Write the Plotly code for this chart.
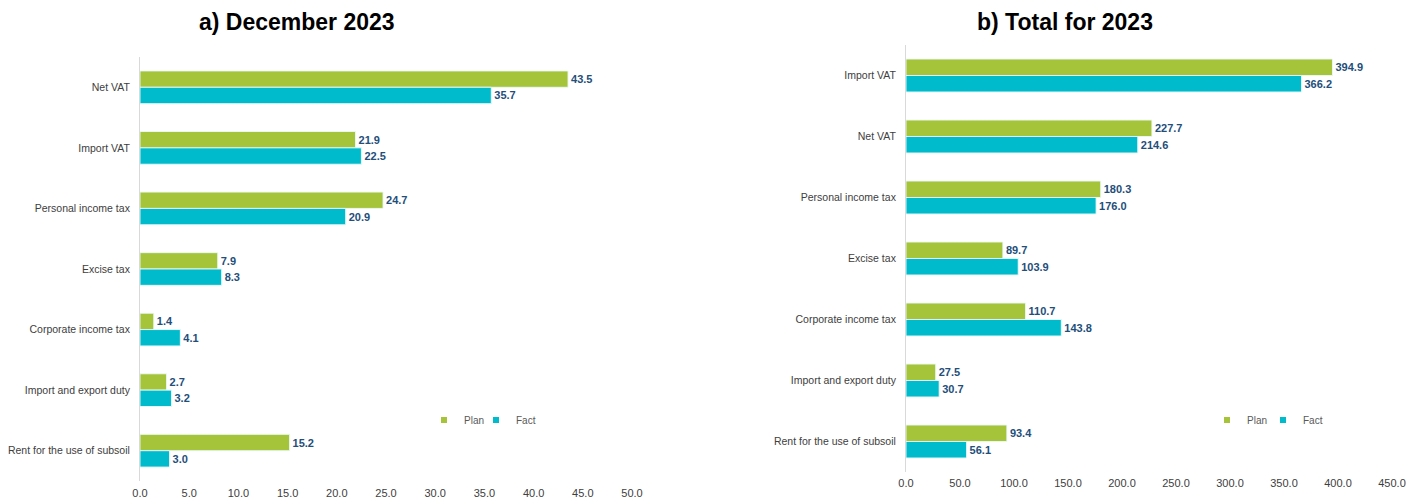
import plotly.graph_objects as go

# Panel a) December 2023
dec_categories = ["Net VAT", "Import VAT", "Personal income tax", "Excise tax",
                  "Corporate income tax", "Import and export duty",
                  "Rent for the use of subsoil"]
dec_plan = [43.5, 21.9, 24.7, 7.9, 1.4, 2.7, 15.2]
dec_fact = [35.7, 22.5, 20.9, 8.3, 4.1, 3.2, 3.0]

# Panel b) Total for 2023
year_categories = ["Import VAT", "Net VAT", "Personal income tax", "Excise tax",
                   "Corporate income tax", "Import and export duty",
                   "Rent for the use of subsoil"]
year_plan = [394.9, 227.7, 180.3, 89.7, 110.7, 27.5, 93.4]
year_fact = [366.2, 214.6, 176.0, 103.9, 143.8, 30.7, 56.1]

series_names = ["Plan", "Fact"]
titles = ["a) December 2023", "b) Total for 2023"]

GREEN = "#A6C43A"
CYAN = "#00BBCC"
LABEL = "#234E7A"
FONT = "Liberation Sans, Arial, sans-serif"

W, H = 1426, 499


def px_x(v):
    return v / W


def px_y(v):
    return 1 - v / H


fig = go.Figure()

# each legend entry gets its own small legend box so the pair sits compactly
panels = [
    (dec_categories, [dec_plan, dec_fact], "x", "y", ["legend", "legend2"]),
    (year_categories, [year_plan, year_fact], "x2", "y2", ["legend3", "legend4"]),
]
colors = [GREEN, CYAN]

for cats, series, xa, ya, legs in panels:
    for name, vals, col, leg in zip(series_names, series, colors, legs):
        fig.add_trace(go.Bar(
            y=cats, x=vals, orientation="h", name=name,
            marker=dict(color=col, line=dict(color="rgba(235,250,250,0.9)", width=1)),
            texttemplate="%{x:.1f}", textposition="outside",
            textfont=dict(family=FONT, size=11, color=LABEL, weight="bold"),
            cliponaxis=False, showlegend=False,
            xaxis=xa, yaxis=ya,
        ))
        fig.add_trace(go.Scatter(
            x=[None], y=[None], mode="markers", name=name,
            marker=dict(symbol="square", size=6, color=col),
            xaxis=xa, yaxis=ya, legend=leg, showlegend=True,
        ))

axis_common = dict(
    showgrid=False, zeroline=False, ticks="", automargin=False,
)
cat_font = dict(family=FONT, size=10.5, color="#404040")
num_font = dict(family=FONT, size=11, color="#404040")
legend_font = dict(family=FONT, size=10, color="#595959")


def legend_box(left_px):
    return dict(orientation="h", x=px_x(left_px), y=px_y(420), xanchor="left",
                yanchor="middle", font=legend_font, bgcolor="rgba(0,0,0,0)",
                itemwidth=30, tracegroupgap=0)


fig.update_layout(
    width=W, height=H,
    margin=dict(l=0, r=0, t=0, b=0),
    paper_bgcolor="white", plot_bgcolor="white",
    barmode="group", bargap=0.46, bargroupgap=0.0,
    font=dict(family=FONT, color="#404040"),
    xaxis=dict(domain=[px_x(140), px_x(632)], range=[0, 50], dtick=5,
               tickformat=".1f", anchor="y", showline=False, tickfont=num_font,
               ticklabelstandoff=4, **axis_common),
    yaxis=dict(domain=[px_y(481), px_y(57)], type="category",
               categoryorder="array", categoryarray=dec_categories,
               autorange="reversed", anchor="x", showline=True,
               linecolor="#D9D9D9", linewidth=1, ticklabelstandoff=7,
               tickfont=cat_font, **axis_common),
    xaxis2=dict(domain=[px_x(906), px_x(1392)], range=[0, 450], dtick=50,
                tickformat=".1f", anchor="y2", showline=False, tickfont=num_font,
                ticklabelstandoff=3, **axis_common),
    yaxis2=dict(domain=[px_y(472), px_y(45)], type="category",
                categoryorder="array", categoryarray=year_categories,
                autorange="reversed", anchor="x2", showline=True,
                linecolor="#D9D9D9", linewidth=1, ticklabelstandoff=7,
                tickfont=cat_font, **axis_common),
    legend=legend_box(424),
    legend2=legend_box(476),
    legend3=legend_box(1207),
    legend4=legend_box(1263),
)

for text, cx in zip(titles, [297, 1065]):
    fig.add_annotation(
        text=f"<b>{text}</b>", x=px_x(cx), y=px_y(22), xref="paper", yref="paper",
        xanchor="center", yanchor="middle", showarrow=False,
        font=dict(family=FONT, size=23, color="#000000"),
    )

fig.write_html("out.html")
